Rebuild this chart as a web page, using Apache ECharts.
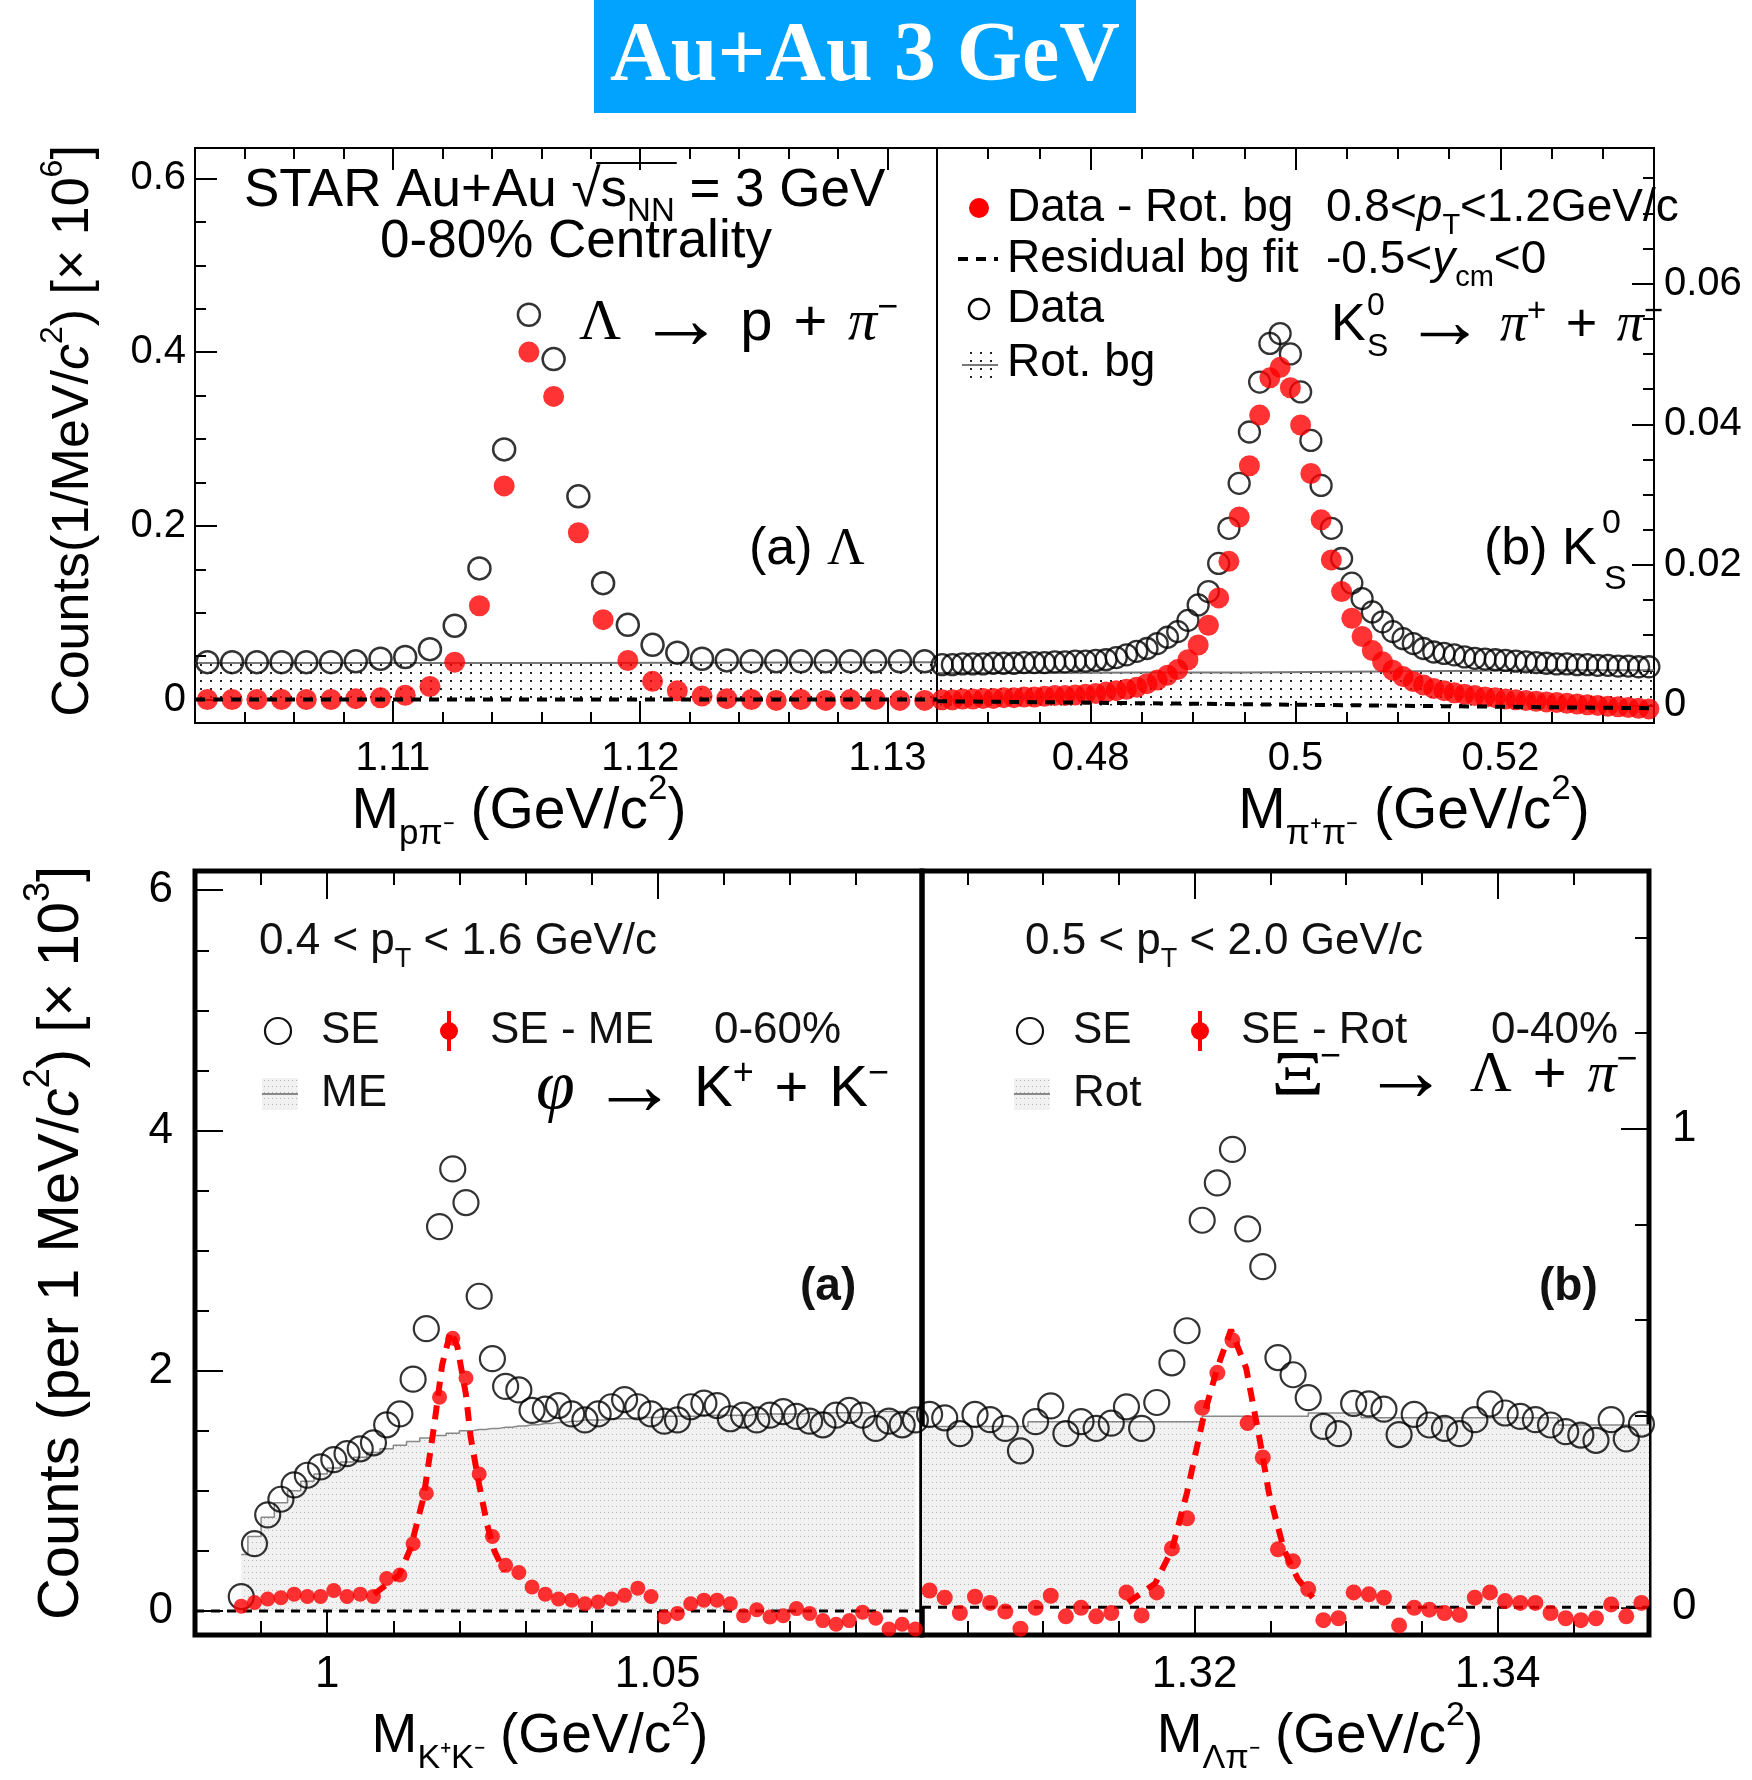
<!DOCTYPE html>
<html>
<head>
<meta charset="utf-8">
<script src="https://cdn.jsdelivr.net/npm/echarts@6/dist/echarts.min.js"></script>
<style>
html, body { margin: 0; padding: 0; background: #fff; }
#main { width: 1752px; height: 1780px; }
</style>
</head>
<body>
<div id="main"></div>
<script>
var SANS = 'Liberation Sans, Arial, Helvetica, sans-serif';
var SERIF = 'Liberation Serif, Times New Roman, serif';

// ---- (a) Lambda -> p + pi-
var lamX = [1.1025,1.1035,1.1045,1.1055,1.1065,1.1075,1.1085,1.1095,1.1105,1.1115,
            1.1125,1.1135,1.1145,1.1155,1.1165,1.1175,1.1185,1.1195,1.1205,1.1215,
            1.1225,1.1235,1.1245,1.1255,1.1265,1.1275,1.1285,1.1295,1.1305,1.1315];
var lamData = [0.043,0.043,0.043,0.043,0.043,0.043,0.044,0.047,0.049,0.058,
               0.085,0.151,0.288,0.443,0.392,0.234,0.134,0.086,0.063,0.054,
               0.047,0.045,0.044,0.044,0.044,0.044,0.044,0.044,0.044,0.044];
var lamSig = [0.000,0.000,0.000,0.000,0.000,0.000,0.001,0.002,0.005,0.015,
              0.043,0.108,0.246,0.400,0.349,0.192,0.092,0.045,0.021,0.010,
              0.004,0.001,0.000,-0.001,0.000,-0.001,0.000,0.000,-0.001,-0.001];
var lamRotX = [1.102, 1.117, 1.132];
var lamRotY = [0.042, 0.043, 0.043];
var lamFitX = [1.102, 1.132];
var lamFitY = [0, 0];

// ---- (b) K0S -> pi+ + pi-
var k0X = [0.4655,0.4665,0.4675,0.4685,0.4695,0.4705,0.4715,0.4725,0.4735,0.4745,
           0.4755,0.4765,0.4775,0.4785,0.4795,0.4805,0.4815,0.4825,0.4835,0.4845,
           0.4855,0.4865,0.4875,0.4885,0.4895,0.4905,0.4915,0.4925,0.4935,0.4945,
           0.4955,0.4965,0.4975,0.4985,0.4995,0.5005,0.5015,0.5025,0.5035,0.5045,
           0.5055,0.5065,0.5075,0.5085,0.5095,0.5105,0.5115,0.5125,0.5135,0.5145,
           0.5155,0.5165,0.5175,0.5185,0.5195,0.5205,0.5215,0.5225,0.5235,0.5245,
           0.5255,0.5265,0.5275,0.5285,0.5295,0.5305,0.5315,0.5325,0.5335,0.5345];
var k0Data = [0.0058,0.0058,0.0059,0.0059,0.0059,0.0060,0.0060,0.0060,0.0061,0.0061,
              0.0061,0.0062,0.0062,0.0063,0.0063,0.0064,0.0065,0.0068,0.0072,0.0077,
              0.0081,0.0088,0.0097,0.0105,0.0121,0.0143,0.0162,0.0202,0.0252,0.0316,
              0.0389,0.0460,0.0515,0.0529,0.0500,0.0446,0.0377,0.0313,0.0252,0.0209,
              0.0174,0.0152,0.0133,0.0119,0.0105,0.0095,0.0088,0.0081,0.0076,0.0074,
              0.0072,0.0069,0.0067,0.0066,0.0065,0.0064,0.0063,0.0062,0.0061,0.0060,
              0.0059,0.0059,0.0058,0.0058,0.0057,0.0057,0.0056,0.0056,0.0055,0.0055];
var k0Sig = [0.0008,0.0008,0.0009,0.0009,0.0010,0.0010,0.0011,0.0011,0.0012,0.0012,
             0.0013,0.0014,0.0014,0.0015,0.0016,0.0017,0.0019,0.0021,0.0023,0.0026,
             0.0031,0.0036,0.0043,0.0051,0.0065,0.0086,0.0114,0.0153,0.0205,0.0268,
             0.0341,0.0413,0.0466,0.0481,0.0452,0.0399,0.0330,0.0264,0.0207,0.0162,
             0.0124,0.0098,0.0078,0.0062,0.0050,0.0041,0.0034,0.0029,0.0024,0.0021,
             0.0018,0.0016,0.0014,0.0012,0.0011,0.0009,0.0008,0.0007,0.0006,0.0005,
             0.0004,0.0003,0.0002,0.0001,0.0000,-0.0001,-0.0002,-0.0003,-0.0004,-0.0005];
var k0RotX = [0.465,0.475,0.485,0.495,0.505,0.515,0.525,0.535];
var k0RotY = [0.0046,0.0047,0.0047,0.0048,0.0049,0.0050,0.0050,0.0051];
var k0FitX = [0.465, 0.535];
var k0FitY = [0.0006, -0.0004];

// ---- phi -> K+ + K-
var phiX = [0.987,0.989,0.991,0.993,0.995,0.997,0.999,1.001,1.003,1.005,
            1.007,1.009,1.011,1.013,1.015,1.017,1.019,1.021,1.023,1.025,
            1.027,1.029,1.031,1.033,1.035,1.037,1.039,1.041,1.043,1.045,
            1.047,1.049,1.051,1.053,1.055,1.057,1.059,1.061,1.063,1.065,
            1.067,1.069,1.071,1.073,1.075,1.077,1.079,1.081,1.083,1.085,
            1.087,1.089];
var phiSE = [0.12,0.56,0.80,0.93,1.05,1.13,1.20,1.26,1.31,1.35,
             1.40,1.55,1.64,1.93,2.35,3.20,3.68,3.40,2.62,2.10,
             1.87,1.84,1.67,1.68,1.71,1.64,1.59,1.64,1.70,1.76,
             1.70,1.64,1.58,1.59,1.70,1.73,1.71,1.60,1.63,1.59,
             1.63,1.66,1.62,1.58,1.55,1.63,1.67,1.63,1.52,1.58,
             1.55,1.59];
var phiME = [0.47,0.62,0.78,0.90,1.00,1.08,1.14,1.19,1.24,1.28,
             1.32,1.35,1.38,1.41,1.44,1.46,1.48,1.50,1.51,1.52,
             1.53,1.54,1.55,1.56,1.57,1.58,1.59,1.59,1.60,1.60,
             1.61,1.61,1.62,1.62,1.62,1.63,1.63,1.63,1.63,1.64,
             1.64,1.64,1.64,1.65,1.65,1.65,1.65,1.65,1.66,1.66,
             1.66,1.66];
var phiSig = [0.04,0.07,0.10,0.11,0.14,0.12,0.12,0.17,0.12,0.14,
              0.12,0.27,0.30,0.56,0.98,1.78,2.27,1.94,1.14,0.62,
              0.38,0.32,0.20,0.14,0.10,0.09,0.06,0.075,0.10,0.13,
              0.19,0.12,-0.05,-0.02,0.06,0.09,0.09,0.06,-0.04,0.01,
              -0.05,-0.04,0.02,-0.02,-0.08,-0.11,-0.08,-0.01,-0.06,-0.15,
              -0.11,-0.15];
var phiFitX = [1.0071,1.0109,1.0126,1.0146,1.0162,1.0174,1.0187,1.0197,1.0210,1.0217,1.0230,1.0242,1.0253,1.0268];
var phiFitY = [0.14,0.30,0.52,0.95,1.55,2.05,2.33,2.20,1.80,1.45,1.05,0.72,0.50,0.33];
var phiZeroX = [0.98, 1.09];
var phiZeroY = [0, 0];

// ---- Xi- -> Lambda + pi-
var xiX = [1.3025,1.3035,1.3045,1.3055,1.3065,1.3075,1.3085,1.3095,1.3105,1.3115,
           1.3125,1.3135,1.3145,1.3155,1.3165,1.3175,1.3185,1.3195,1.3205,1.3215,
           1.3225,1.3235,1.3245,1.3255,1.3265,1.3275,1.3285,1.3295,1.3305,1.3315,
           1.3325,1.3335,1.3345,1.3355,1.3365,1.3375,1.3385,1.3395,1.3405,1.3415,
           1.3425,1.3435,1.3445,1.3455,1.3465,1.3475,1.3485,1.3495];
var xiSE = [0.403,0.396,0.363,0.403,0.392,0.374,0.327,0.388,0.421,0.363,
            0.388,0.374,0.385,0.419,0.374,0.428,0.511,0.578,0.809,0.887,
            0.957,0.791,0.712,0.522,0.486,0.438,0.378,0.363,0.426,0.425,
            0.414,0.361,0.403,0.381,0.374,0.363,0.392,0.425,0.406,0.399,
            0.392,0.381,0.367,0.360,0.349,0.392,0.352,0.383];
var xiSig = [0.035,0.020,-0.012,0.022,0.009,-0.009,-0.045,-0.001,0.024,-0.019,
             -0.001,-0.019,-0.012,0.031,-0.017,0.031,0.123,0.186,0.417,0.490,
             0.558,0.385,0.313,0.121,0.096,0.038,-0.027,-0.023,0.031,0.027,
             0.020,-0.038,-0.001,-0.005,-0.012,-0.016,0.020,0.031,0.013,0.009,
             0.009,-0.012,-0.023,-0.027,-0.023,0.006,-0.019,0.009];
var xiRotX = [1.302,1.309,1.3205,1.3275,1.331,1.344,1.350];
var xiRotY = [0.378,0.388,0.399,0.406,0.396,0.381,0.381];
var xiFitX = [1.3156,1.3174,1.3185,1.3195,1.3206,1.3215,1.3224,1.3234,1.3243,1.3249,1.3259,1.3268,1.3278];
var xiFitY = [0.01,0.05,0.12,0.24,0.40,0.50,0.58,0.50,0.35,0.24,0.12,0.06,0.02];
var xiZeroX = [1.302, 1.35];
var xiZeroY = [0, 0];

function pts(xs, ys) {
    return xs.map(function (x, i) { return [x, ys[i]]; });
}

// tick positions from a to b every step
function ticks(a, b, step) {
    var out = [];
    for (var k = 0; a + k * step <= b + 1e-9; k++) {
        out.push(Math.round((a + k * step) * 1e6) / 1e6);
    }
    return out;
}

// dotted fill like ROOT hatch style
function dots(bg, fg, sx, sy, s) {
    var c = document.createElement('canvas');
    c.width = sx; c.height = sy;
    var ctx = c.getContext('2d');
    if (bg) { ctx.fillStyle = bg; ctx.fillRect(0, 0, sx, sy); }
    ctx.fillStyle = fg;
    ctx.fillRect(0, 0, s, s);
    return { image: c, repeat: 'repeat' };
}
var dotsTop = dots(null, '#222', 10, 8, 2);
var dotsBot = dots('#f1f1f1', '#b5b5b5', 4, 6, 1);

var panels = [
    { grid: { left: 195, top: 148, width: 742, height: 575 }, border: 2, tl: [22, 11],
      x: { min: 1.102, max: 1.132, major: [1.11, 1.12, 1.13], minor: ticks(1.102, 1.132, 0.002), size: 40, margin: 16 },
      y: { side: 'left', min: -0.027, max: 0.635, major: [0, 0.2, 0.4, 0.6], minor: ticks(0, 0.6, 0.05), size: 40, margin: 9 } },
    { grid: { left: 937, top: 148, width: 717, height: 575 }, border: 2, tl: [22, 11],
      x: { min: 0.465, max: 0.535, major: [0.48, 0.5, 0.52], minor: ticks(0.465, 0.535, 0.005), size: 40, margin: 16 },
      y: { side: 'right', min: -0.0025, max: 0.0793, major: [0, 0.02, 0.04, 0.06], minor: ticks(0, 0.075, 0.005), size: 40, margin: 10 } },
    { grid: { left: 195, top: 871, width: 727, height: 764 }, border: 5, tl: [28, 14],
      x: { min: 0.98, max: 1.09, major: [1, 1.05], minor: ticks(0.98, 1.09, 0.01), size: 44, margin: 18 },
      y: { side: 'left', min: -0.2, max: 6.16, major: [0, 2, 4, 6], minor: ticks(0, 6, 0.5), size: 44, margin: 22 } },
    { grid: { left: 922, top: 871, width: 727, height: 764 }, border: 5, tl: [28, 14],
      x: { min: 1.302, max: 1.35, major: [1.32, 1.34], minor: ticks(1.305, 1.35, 0.005), size: 44, margin: 18 },
      y: { side: 'right', min: -0.058, max: 1.539, major: [0, 1], minor: ticks(0, 1.4, 0.2), size: 44, margin: 23 } }
];

function mkAxis(g, pos, r, vals, len, lab) {
    var ax = {
        type: 'value', gridIndex: g, position: pos, min: r.min, max: r.max,
        axisLine: { show: false, onZero: false },
        splitLine: { show: false },
        axisTick: { show: true, inside: true, length: len, customValues: vals,
                    lineStyle: { color: '#000', width: 2 } },
        axisLabel: { show: false }
    };
    if (lab) {
        ax.axisLabel = {
            show: true, customValues: vals, margin: r.margin, fontSize: r.size,
            fontFamily: SANS, color: '#000',
            formatter: function (v) { return String(Math.round(v * 10000) / 10000); }
        };
    }
    return ax;
}

var grids = [], xAxes = [], yAxes = [];
panels.forEach(function (p, g) {
    grids.push({ left: p.grid.left, top: p.grid.top, width: p.grid.width, height: p.grid.height,
                 show: true, borderColor: '#000', borderWidth: p.border,
                 backgroundColor: 'transparent', containLabel: false, outerBoundsMode: 'none' });
    xAxes.push(mkAxis(g, 'bottom', p.x, p.x.major, p.tl[0], true));
    xAxes.push(mkAxis(g, 'bottom', p.x, p.x.minor, p.tl[1], false));
    xAxes.push(mkAxis(g, 'top', p.x, p.x.major, p.tl[0], false));
    xAxes.push(mkAxis(g, 'top', p.x, p.x.minor, p.tl[1], false));
    yAxes.push(mkAxis(g, p.y.side, p.y, p.y.major, p.tl[0], true));
    yAxes.push(mkAxis(g, p.y.side, p.y, p.y.minor, p.tl[1], false));
});

function openPts(g, xs, ys, size, bw) {
    return { type: 'scatter', xAxisIndex: 4 * g, yAxisIndex: 2 * g, data: pts(xs, ys),
             symbol: 'circle', symbolSize: size, z: 3,
             itemStyle: { color: 'rgba(0,0,0,0)', borderColor: '#000', borderWidth: bw } };
}
function redPts(g, xs, ys, size) {
    return { type: 'scatter', xAxisIndex: 4 * g, yAxisIndex: 2 * g, data: pts(xs, ys),
             symbol: 'circle', symbolSize: size, z: 4, itemStyle: { color: '#ff0000' } };
}
function bgHist(g, xs, ys, step, lc, lw, pat) {
    return { type: 'line', xAxisIndex: 4 * g, yAxisIndex: 2 * g, data: pts(xs, ys),
             step: step, symbol: 'none', z: 1, silent: true,
             lineStyle: { color: lc, width: lw }, areaStyle: { color: pat, opacity: 1 } };
}
function dashLine(g, xs, ys, color, w, dash, z) {
    return { type: 'line', xAxisIndex: 4 * g, yAxisIndex: 2 * g, data: pts(xs, ys),
             symbol: 'none', z: z, silent: true,
             lineStyle: { color: color, width: w, type: dash } };
}

var series = [
    bgHist(0, lamRotX, lamRotY, 'end', '#777', 2, dotsTop),
    openPts(0, lamX, lamData, 22, 2.5),
    redPts(0, lamX, lamSig, 21),
    dashLine(0, lamFitX, lamFitY, '#000', 4, [10, 8], 5),

    bgHist(1, k0RotX, k0RotY, 'end', '#777', 2, dotsTop),
    openPts(1, k0X, k0Data, 21, 2.3),
    redPts(1, k0X, k0Sig, 21),
    dashLine(1, k0FitX, k0FitY, '#000', 4, [10, 8], 5),

    bgHist(2, phiX, phiME, 'middle', '#888', 1.5, dotsBot),
    openPts(2, phiX, phiSE, 25, 2.2),
    dashLine(2, phiZeroX, phiZeroY, '#000', 3, [9, 7], 2),
    dashLine(2, phiFitX, phiFitY, '#ff0000', 6, [14, 10], 4),
    redPts(2, phiX, phiSig, 15),

    bgHist(3, xiRotX, xiRotY, 'end', '#888', 1.5, dotsBot),
    openPts(3, xiX, xiSE, 25, 2.2),
    dashLine(3, xiZeroX, xiZeroY, '#000', 3, [9, 7], 2),
    dashLine(3, xiFitX, xiFitY, '#ff0000', 6, [14, 10], 4),
    redPts(3, xiX, xiSig, 16)
];

// rich text styles for sub/superscripts, greek letters, arrows
function rich(F, L) {
    var s = Math.round(F * 0.62);
    return {
        sup: { fontSize: s, lineHeight: s, verticalAlign: 'top', fontFamily: SANS },
        sub: { fontSize: s, lineHeight: s, verticalAlign: 'bottom', fontFamily: SANS },
        it: { fontSize: F, lineHeight: L, fontFamily: SANS, fontStyle: 'italic' },
        gr: { fontSize: F, lineHeight: L, fontFamily: SERIF },
        gi: { fontSize: F, lineHeight: L, fontFamily: SERIF, fontStyle: 'italic' },
        gb: { fontSize: Math.round(F * 1.2), lineHeight: L, fontFamily: SERIF, fontStyle: 'italic' },
        ar: { fontSize: Math.round(F * 1.5), lineHeight: L, fontFamily: SANS },
        sp: { fontSize: Math.round(F * 1.3), lineHeight: L, fontFamily: SANS }
    };
}
function txt(x, y, text, F, o) {
    o = o || {};
    var L = Math.round(F * (o.lh || 1.4));
    return { type: 'text', x: x, y: y, rotation: o.rot || 0, scaleX: o.sx || 1, z: 100,
             style: { text: text, fontSize: F, fontFamily: o.font || SANS,
                      fontWeight: o.weight || 'normal', fill: o.color || '#000',
                      align: o.align || 'left', verticalAlign: 'middle',
                      lineHeight: L, rich: rich(F, L) } };
}
function circ(cx, cy, r, fill, stroke, lw) {
    return { type: 'circle', z: 100, shape: { cx: cx, cy: cy, r: r },
             style: { fill: fill, stroke: stroke, lineWidth: lw || 0 } };
}
function seg(x1, y1, x2, y2, color, lw, dash) {
    return { type: 'line', z: 100, shape: { x1: x1, y1: y1, x2: x2, y2: y2 },
             style: { stroke: color, lineWidth: lw, lineDash: dash || null } };
}
function box(x, y, w, h, pat) {
    return { type: 'rect', z: 99, shape: { x: x, y: y, width: w, height: h }, style: { fill: pat } };
}

var mctx = document.createElement('canvas').getContext('2d');
function textW(s, px) { mctx.font = px + 'px ' + SANS; return mctx.measureText(s).width; }
var ovX1 = 244 + textW('STAR Au+Au ', 53) + textW('\u221A', 53) * 0.85;
var ovX2 = 244 + textW('STAR Au+Au \u221As', 53) + textW('NN', 33) + 2;

var SP = '{sp| }';
var AR = '{ar|\u2192}';

var graphics = [
    { type: 'rect', z: 100, shape: { x: 594, y: 0, width: 542, height: 113 }, style: { fill: '#02a3ff' } },
    txt(865, 58, 'Au+Au 3 GeV', 84, { font: SERIF, weight: 'bold', color: '#fff', align: 'center' }),

    // axis titles
    txt(74, 431, 'Counts(1/MeV/{it|c}{sup|2}) [\u00D7 10{sup|6}]', 52, { rot: Math.PI / 2, align: 'center' }),
    txt(62, 1243, 'Counts (per 1 MeV/{it|c}{sup|2}) [\u00D7 10{sup|3}]', 58, { rot: Math.PI / 2, align: 'center' }),
    txt(519, 812, 'M{sub|p\u03C0\u207B} (GeV/c{sup|2})', 57, { align: 'center' }),
    txt(1414, 812, 'M{sub|\u03C0\u207A\u03C0\u207B} (GeV/c{sup|2})', 57, { align: 'center' }),
    txt(540, 1737, 'M{sub|K\u207AK\u207B} (GeV/c{sup|2})', 55, { align: 'center' }),
    txt(1320, 1737, 'M{sub|\u039B\u03C0\u207B} (GeV/c{sup|2})', 55, { align: 'center' }),

    // (a) Lambda panel
    txt(244, 191, 'STAR Au+Au \u221As{sub|NN} = 3 GeV', 53),
    seg(ovX1, 163, ovX2, 163, '#000', 2),
    txt(576, 242, '0-80% Centrality', 53, { align: 'center' }),
    txt(579, 324, '{gr|\u039B} ' + AR + ' p' + SP + '+' + SP + '{gi|\u03C0}{sup|\u2212}', 58, { lh: 1.15 }),
    txt(749, 550, '(a) {gr|\u039B}', 52),

    // (b) K0S panel legend
    circ(979, 208, 10, '#ff0000', null, 0),
    txt(1007, 208, 'Data - Rot. bg', 46),
    seg(958, 259, 998, 259, '#000', 4, [10, 8]),
    txt(1007, 259, 'Residual bg fit', 46),
    circ(979, 309, 10, 'rgba(0,0,0,0)', '#000', 2.5),
    txt(1007, 309, 'Data', 46),
    box(962, 346, 36, 38, dotsTop),
    seg(962, 365, 998, 365, '#777', 2),
    txt(1007, 363, 'Rot. bg', 46),
    txt(1326, 208, '0.8<{it|p}{sub|T}<1.2GeV/c', 46),
    txt(1326, 260, '-0.5<{it|y}{sub|cm}<0', 46),
    txt(1331, 326, 'K', 52),
    txt(1367, 306, '0', 32),
    txt(1367, 347, 'S', 32),
    txt(1404, 326, AR + ' {gi|\u03C0}{sup|+}' + SP + '+' + SP + '{gi|\u03C0}{sup|\u2212}', 54, { lh: 1.15 }),
    txt(1484, 550, '(b) K', 52),
    txt(1602, 524, '0', 34),
    txt(1604, 580, 'S', 34),

    // phi panel
    txt(259, 942, '0.4 < p{sub|T} < 1.6 GeV/c', 44, { color: '#111' }),
    circ(278, 1031, 13, 'rgba(0,0,0,0)', '#111', 2.2),
    txt(321, 1031, 'SE', 44, { color: '#111' }),
    seg(449, 1011, 449, 1051, '#ff0000', 4),
    circ(449, 1031, 9, '#ff0000', null, 0),
    txt(490, 1031, 'SE - ME', 44, { color: '#111' }),
    txt(714, 1031, '0-60%', 44, { color: '#111' }),
    box(262, 1078, 36, 32, dotsBot),
    seg(262, 1094, 298, 1094, '#888', 2),
    txt(321, 1094, 'ME', 44, { color: '#111' }),
    txt(536, 1090, '{gb|\u03C6} ' + AR + ' K{sup|+}' + SP + '+' + SP + 'K{sup|\u2212}', 58, { lh: 1.15 }),
    txt(800, 1287, '(a)', 46, { weight: 'bold', color: '#111' }),

    // Xi panel
    txt(1025, 942, '0.5 < p{sub|T} < 2.0 GeV/c', 44, { color: '#111' }),
    circ(1030, 1031, 13, 'rgba(0,0,0,0)', '#111', 2.2),
    txt(1073, 1031, 'SE', 44, { color: '#111' }),
    seg(1200, 1011, 1200, 1051, '#ff0000', 4),
    circ(1200, 1031, 9, '#ff0000', null, 0),
    txt(1241, 1031, 'SE - Rot', 44, { color: '#111' }),
    txt(1491, 1031, '0-40%', 44, { color: '#111' }),
    box(1014, 1078, 36, 32, dotsBot),
    seg(1014, 1094, 1050, 1094, '#888', 2),
    txt(1073, 1094, 'Rot', 44, { color: '#111' }),
    txt(1271, 1078, '\u039E', 64, { font: SERIF, sx: 1.3 }),
    txt(1320, 1057, '\u2212', 36),
    txt(1362, 1076, AR + SP + '{gr|\u039B}' + SP + '+' + SP + '{gi|\u03C0}{sup|\u2212}', 58, { lh: 1.15 }),
    txt(1539, 1287, '(b)', 46, { weight: 'bold', color: '#111' })
];

var chart = echarts.init(document.getElementById('main'));
chart.setOption({
    animation: false,
    backgroundColor: '#fff',
    grid: grids,
    xAxis: xAxes,
    yAxis: yAxes,
    series: series,
    graphic: graphics
});
</script>
</body>
</html>
